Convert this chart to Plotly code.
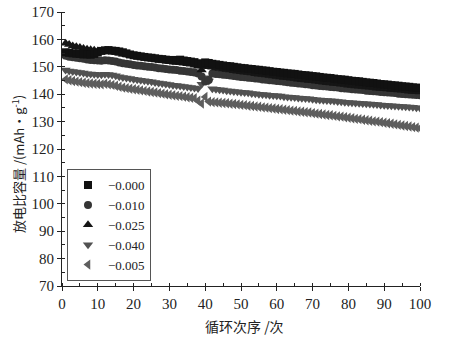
import plotly.graph_objects as go

cycles = list(range(1, 101))

s_000 = [155.3, 155.1, 154.9, 154.8, 154.7, 154.5, 154.6, 154.4, 154.7, 155.2,
         155.8, 156.0, 156.1, 155.9, 155.8, 155.6, 155.3, 154.9, 154.5, 154.2,
         154.0, 153.8, 153.6, 153.4, 153.3, 153.1, 152.9, 152.8, 152.6, 152.5,
         152.3, 152.5, 152.6, 152.3, 152.1, 151.9, 151.7, 151.3, 150.9, 151.6,
         151.4, 151.1, 150.9, 150.7, 150.5, 150.3, 150.2, 150.0, 149.8, 149.6,
         149.5, 149.3, 149.2, 149.0, 148.9, 148.7, 148.6, 148.4, 148.2, 148.1,
         147.9, 147.8, 147.6, 147.5, 147.4, 147.2, 147.0, 146.9, 146.8, 146.6,
         146.5, 146.3, 146.1, 146.0, 145.9, 145.7, 145.5, 145.4, 145.3, 145.1,
         144.9, 144.8, 144.7, 144.5, 144.3, 144.2, 144.1, 143.9, 143.7, 143.6,
         143.5, 143.3, 143.2, 143.1, 142.9, 142.8, 142.7, 142.5, 142.4, 142.3]

s_010 = [154.0, 153.7, 153.5, 153.3, 153.1, 152.9, 152.7, 152.5, 152.4, 152.3,
         152.2, 152.4, 152.3, 152.1, 151.9, 151.6, 151.3, 151.1, 150.9, 150.7,
         150.5, 150.4, 150.2, 150.0, 149.9, 149.7, 149.5, 149.4, 149.2, 149.0,
         148.9, 148.8, 148.6, 148.5, 148.3, 148.1, 147.9, 147.6, 146.5, 144.6,
         145.2, 147.6, 147.4, 147.3, 147.1, 147.0, 146.8, 146.6, 146.5, 146.3,
         146.2, 146.0, 145.9, 145.7, 145.6, 145.4, 145.3, 145.1, 145.0, 144.8,
         144.7, 144.5, 144.4, 144.2, 144.1, 143.9, 143.8, 143.6, 143.5, 143.3,
         143.2, 143.0, 142.9, 142.8, 142.6, 142.5, 142.4, 142.2, 142.1, 142.0,
         141.8, 141.7, 141.6, 141.5, 141.3, 141.2, 141.1, 141.0, 140.8, 140.7,
         140.6, 140.5, 140.4, 140.2, 140.1, 140.0, 139.9, 139.8, 139.7, 139.6]

s_025 = [158.6, 158.1, 157.6, 157.3, 157.0, 156.7, 156.4, 156.2, 156.0, 155.8,
         155.7, 155.9, 155.8, 155.6, 155.3, 154.9, 154.6, 154.4, 154.2, 154.0,
         153.8, 153.6, 153.4, 153.2, 153.0, 152.8, 152.6, 152.4, 152.2, 152.0,
         151.8, 151.6, 151.5, 151.3, 151.1, 150.9, 150.6, 150.2, 148.8, 150.3,
         150.0, 149.8, 149.6, 149.4, 149.2, 149.0, 148.8, 148.6, 148.4, 148.2,
         148.0, 147.9, 147.7, 147.5, 147.3, 147.2, 147.0, 146.8, 146.6, 146.5,
         146.3, 146.1, 146.0, 145.8, 145.7, 145.5, 145.3, 145.2, 145.0, 144.9,
         144.7, 144.5, 144.4, 144.2, 144.1, 143.9, 143.8, 143.6, 143.5, 143.3,
         143.2, 143.0, 142.9, 142.8, 142.6, 142.5, 142.4, 142.2, 142.1, 142.0,
         141.9, 141.7, 141.6, 141.5, 141.4, 141.3, 141.1, 141.0, 140.9, 140.8]

s_040 = [148.8, 148.5, 148.3, 148.1, 147.9, 147.7, 147.5, 147.4, 147.3, 147.2,
         147.1, 147.3, 147.2, 147.0, 146.7, 146.4, 146.1, 145.9, 145.7, 145.5,
         145.3, 145.1, 144.9, 144.7, 144.5, 144.3, 144.1, 143.9, 143.7, 143.5,
         143.3, 143.2, 143.0, 142.8, 142.6, 142.4, 142.3, 142.1, 143.6, 146.0,
         144.8, 142.0, 141.8, 141.6, 141.5, 141.3, 141.2, 141.0, 140.9, 140.7,
         140.6, 140.5, 140.3, 140.2, 140.0, 139.9, 139.8, 139.6, 139.5, 139.4,
         139.3, 139.1, 139.0, 138.9, 138.8, 138.6, 138.5, 138.4, 138.3, 138.2,
         138.0, 137.9, 137.8, 137.7, 137.6, 137.5, 137.3, 137.2, 137.1, 137.0,
         136.9, 136.8, 136.7, 136.6, 136.5, 136.4, 136.3, 136.2, 136.1, 136.0,
         135.9, 135.8, 135.7, 135.6, 135.5, 135.4, 135.3, 135.2, 135.1, 135.0]

s_005 = [145.4, 145.1, 144.8, 144.6, 144.4, 144.2, 144.0, 143.9, 143.8, 143.7,
         143.6, 143.8, 143.6, 143.4, 143.1, 142.7, 142.4, 142.2, 142.0, 141.8,
         141.6, 141.4, 141.2, 141.0, 140.8, 140.6, 140.4, 140.2, 140.0, 139.8,
         139.6, 139.4, 139.3, 139.1, 138.9, 138.7, 138.5, 137.6, 136.6, 139.0,
         137.3, 137.1, 137.0, 136.9, 136.8, 136.7, 136.5, 136.4, 136.3, 136.1,
         136.0, 135.8, 135.7, 135.5, 135.4, 135.2, 135.1, 134.9, 134.8, 134.6,
         134.5, 134.3, 134.2, 134.0, 133.9, 133.7, 133.6, 133.4, 133.3, 133.1,
         132.9, 132.8, 132.6, 132.4, 132.3, 132.1, 131.9, 131.8, 131.6, 131.4,
         131.2, 131.0, 130.9, 130.7, 130.5, 130.3, 130.1, 130.0, 129.8, 129.6,
         129.4, 129.2, 129.0, 128.8, 128.6, 128.4, 128.2, 128.0, 127.8, 127.6]

series_names = ["\u22120.000", "\u22120.010", "\u22120.025", "\u22120.040", "\u22120.005"]
x_ticks = [0, 10, 20, 30, 40, 50, 60, 70, 80, 90, 100]
y_ticks = [70, 80, 90, 100, 110, 120, 130, 140, 150, 160, 170]

styles = [
    ("square", "#111111", 8, 1),
    ("circle", "#353535", 8, 2),
    ("triangle-up", "#151515", 9, 3),
    ("triangle-down", "#525252", 9, 4),
    ("triangle-left", "#5e5e5e", 9, 5),
]
data = [s_000, s_010, s_025, s_040, s_005]

fig = go.Figure()
for idx in [4, 3, 1, 2, 0]:
    sym, col, sz, rank = styles[idx]
    fig.add_trace(go.Scatter(
        x=cycles, y=data[idx], mode="markers", name=series_names[idx],
        legendrank=rank,
        marker=dict(symbol=sym, color=col, size=sz, line=dict(width=0)),
    ))

serif = "Liberation Serif"
axis_common = dict(
    ticks="outside", ticklen=4, tickwidth=1, tickcolor="#222",
    showline=True, linecolor="#222", linewidth=1, showgrid=False,
    zeroline=False, automargin=False,
    minor=dict(dtick=5, ticks="inside", ticklen=3, tickcolor="#222", showgrid=False),
    tickfont=dict(family=serif, size=15, color="#222"),
)
fig.update_layout(
    width=454, height=343,
    margin=dict(l=62, r=34, t=12, b=57, autoexpand=False),
    paper_bgcolor="white", plot_bgcolor="white",
    font=dict(family=serif, size=15, color="#222"),
    showlegend=True,
    legend=dict(
        x=0.014, y=0.018, xanchor="left", yanchor="bottom",
        bordercolor="#555", borderwidth=1, bgcolor="white",
        font=dict(family=serif, size=13, color="#222"),
        itemwidth=30, tracegroupgap=0,
    ),
    xaxis=dict(range=[0, 100], tickvals=x_ticks, **axis_common),
    yaxis=dict(range=[70, 170], tickvals=y_ticks, **axis_common),
    annotations=[
        dict(text="循环次序 /次", xref="paper", yref="paper", x=0.511, y=-0.146,
             xanchor="center", yanchor="middle", showarrow=False,
             font=dict(family="Noto Sans CJK SC", size=14, color="#222")),
        dict(text="放电比容量 /(mAh·g<sup>-1</sup>)", xref="paper", yref="paper",
             x=-0.123, y=0.445, xanchor="center", yanchor="middle", textangle=-90,
             showarrow=False,
             font=dict(family="Noto Sans CJK SC", size=13, color="#222")),
    ],
)

fig.write_html("out.html", config={"displayModeBar": False},
               post_script="document.body.style.margin='0';")
